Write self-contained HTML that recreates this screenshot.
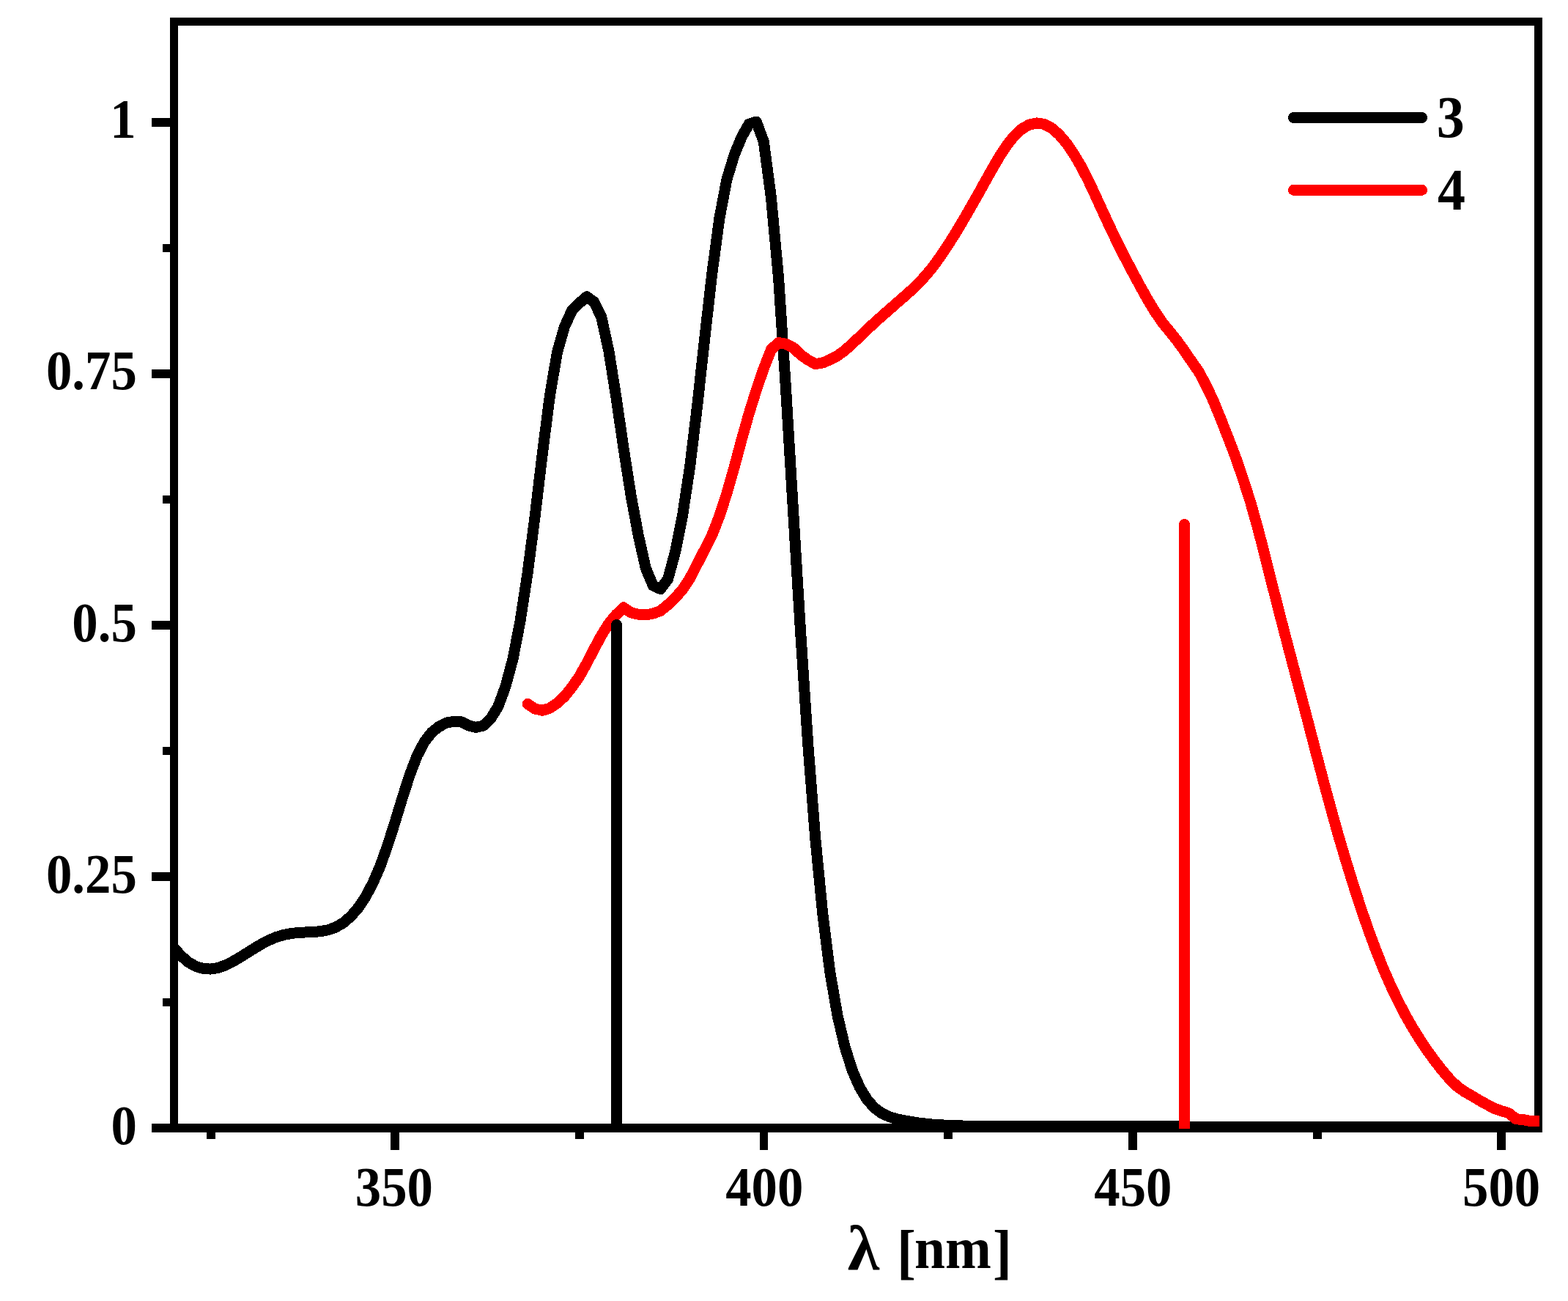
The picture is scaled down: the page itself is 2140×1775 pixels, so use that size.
<!DOCTYPE html>
<html lang="en"><head><meta charset="utf-8"><title>Spectra of 3 and 4</title>
<style>html,body{margin:0;padding:0;background:#fff}body{width:2140px;height:1775px;overflow:hidden}svg{display:block}text{font-family:"Liberation Serif","DejaVu Serif",serif;font-weight:bold;fill:#000}</style>
</head><body>
<svg width="2140" height="1775" viewBox="0 0 2140 1775">
<rect width="2140" height="1775" fill="#fff"/>
<g fill="#000" shape-rendering="crispEdges">
<rect x="232" y="24" width="11" height="1521"/>
<rect x="2094" y="24" width="11" height="1521"/>
<rect x="232" y="24" width="1873" height="11"/>
<rect x="207" y="1533" width="1898" height="12"/>
<rect x="207" y="161" width="25" height="12"/>
<rect x="207" y="504" width="25" height="12"/>
<rect x="207" y="847" width="25" height="12"/>
<rect x="207" y="1190" width="25" height="12"/>
<rect x="222" y="333" width="10" height="11"/>
<rect x="222" y="676" width="10" height="11"/>
<rect x="222" y="1019" width="10" height="11"/>
<rect x="222" y="1362" width="10" height="11"/>
<rect x="533" y="1545" width="12" height="24"/>
<rect x="1037" y="1545" width="11" height="24"/>
<rect x="1540" y="1545" width="12" height="24"/>
<rect x="2043" y="1545" width="12" height="24"/>
<rect x="282" y="1545" width="12" height="9"/>
<rect x="785" y="1545" width="12" height="9"/>
<rect x="1288" y="1545" width="12" height="9"/>
<rect x="1792" y="1545" width="12" height="9"/>
</g>
<g fill="none" stroke-width="15" stroke-linejoin="round" shape-rendering="crispEdges">
<path stroke="#000" stroke-linecap="butt" d="M237.0,1292.8L247.1,1304.1L257.1,1312.7L267.2,1318.5L277.3,1321.5L287.3,1322.1L297.4,1320.5L307.5,1317.0L317.5,1312.0L327.6,1306.1L337.7,1299.8L347.7,1293.5L357.8,1287.5L367.9,1282.3L377.9,1278.2L388.0,1275.3L398.1,1273.4L408.1,1272.4L418.2,1271.9L428.3,1271.5L438.3,1270.5L448.4,1268.6L458.5,1264.9L468.5,1259.0L478.6,1250.4L488.7,1238.8L498.7,1223.9L508.8,1205.0L518.9,1181.7L528.9,1153.7L539.0,1122.0L549.1,1088.8L559.1,1057.6L569.2,1031.3L579.3,1011.9L589.3,999.2L599.4,991.2L609.5,986.1L619.5,984.3L629.6,984.9L639.7,989.9L649.7,992.4L659.8,990.0L669.9,980.1L679.9,963.9L690.0,936.3L700.1,898.6L710.1,846.9L720.2,781.0L730.3,703.0L740.3,618.8L750.4,540.1L760.5,480.5L770.5,445.7L780.6,423.6L790.7,413.5L800.7,404.8L810.8,411.9L820.9,433.0L830.9,479.0L841.0,542.5L851.1,612.0L861.1,675.9L871.2,730.2L881.3,775.3L891.3,798.9L901.4,803.6L911.5,790.1L921.5,753.4L931.6,702.9L941.7,635.9L951.7,553.2L961.8,461.3L971.9,372.2L981.9,297.7L992.0,244.6L1002.1,211.5L1012.1,187.1L1022.2,169.3L1032.3,166.1L1042.3,193.3L1052.4,269.4L1062.5,378.5L1072.5,529.8L1082.6,697.8L1092.7,863.6L1102.7,1015.0L1112.8,1144.2L1122.9,1248.0L1132.9,1327.0L1143.0,1385.5L1153.1,1428.4L1163.1,1460.1L1173.2,1483.3L1183.3,1500.0L1193.3,1511.4L1203.4,1518.8L1213.5,1523.5L1223.5,1526.6L1233.6,1528.7L1243.7,1530.5L1253.7,1532.0L1263.8,1533.2L1273.9,1534.2L1283.9,1534.8L1294.0,1535.3L1304.1,1535.7L1314.1,1536.0L1324.2,1536.2L1334.3,1536.4L1344.3,1536.4L1354.4,1536.5L1364.5,1536.5L1374.5,1536.5L1384.6,1536.5L1394.7,1536.5L1404.7,1536.5L1414.8,1536.5L1424.9,1536.5L1434.9,1536.5L1445.0,1536.6L1455.1,1536.6L1465.1,1536.6L1475.2,1536.6L1485.3,1536.6L1495.3,1536.6L1505.4,1536.7L1515.5,1536.7L1525.5,1536.7L1535.6,1536.7L1545.7,1536.8L1555.7,1536.8L1565.8,1536.8L1575.9,1536.8L1585.9,1536.9L1596.0,1536.9L1606.1,1536.9L1616.1,1537.0L1626.2,1537.0L1636.3,1537.0L1646.3,1537.1L1656.4,1537.1L1666.5,1537.1L1676.5,1537.1L1686.6,1537.2L1696.7,1537.2L1706.7,1537.2L1716.8,1537.2L1726.9,1537.3L1736.9,1537.3L1747.0,1537.3L1757.1,1537.3L1767.1,1537.4L1777.2,1537.4L1787.3,1537.4L1797.3,1537.4L1807.4,1537.4L1817.5,1537.5L1827.5,1537.5L1837.6,1537.5L1847.7,1537.5L1857.7,1537.5L1867.8,1537.6L1877.9,1537.6L1887.9,1537.6L1898.0,1537.6L1908.1,1537.6L1918.1,1537.6L1928.2,1537.6L1938.3,1537.6L1948.3,1537.7L1958.4,1537.7L1968.5,1537.7L1978.5,1537.7L1988.6,1537.7L1998.7,1537.7L2008.7,1537.7L2018.8,1537.7L2028.9,1537.7L2038.9,1537.8L2049.0,1537.8L2059.1,1537.8L2069.1,1537.8L2079.2,1537.8L2089.3,1537.8L2099.3,1537.8"/>
<path stroke="#f00" stroke-linecap="butt" d="M720.2,960.4L730.3,967.1L740.3,969.3L750.4,966.2L760.5,959.2L770.5,950.2L780.6,937.6L790.7,922.9L800.7,905.1L810.8,885.5L820.9,866.7L830.9,850.8L841.0,838.6L851.1,828.9L861.1,835.8L871.2,838.2L881.3,838.9L891.3,837.1L901.4,833.4L911.5,825.1L921.5,815.7L931.6,804.0L941.7,788.8L951.7,769.3L961.8,749.8L971.9,729.6L981.9,704.1L992.0,673.0L1002.1,637.4L1012.1,600.2L1022.2,564.3L1032.3,531.9L1042.3,502.9L1052.4,477.0L1062.5,467.4L1072.5,469.3L1082.6,474.2L1092.7,484.0L1102.7,491.1L1112.8,496.5L1122.9,495.0L1132.9,490.7L1143.0,485.4L1153.1,478.0L1163.1,469.1L1173.2,459.5L1183.3,449.8L1193.3,440.5L1203.4,431.4L1213.5,422.6L1223.5,413.8L1233.6,405.0L1243.7,396.0L1253.7,386.3L1263.8,375.5L1273.9,363.1L1283.9,349.3L1294.0,334.1L1304.1,318.1L1314.1,301.3L1324.2,283.9L1334.3,266.2L1344.3,248.1L1354.4,230.1L1364.5,212.9L1374.5,197.6L1384.6,185.1L1394.7,175.9L1404.7,170.1L1414.8,167.9L1424.9,169.4L1434.9,174.5L1445.0,183.2L1455.1,194.9L1465.1,209.4L1475.2,226.5L1485.3,246.1L1495.3,267.4L1505.4,289.5L1515.5,311.2L1525.5,332.0L1535.6,351.9L1545.7,371.1L1555.7,389.7L1565.8,407.8L1575.9,424.6L1585.9,439.4L1596.0,451.8L1606.1,464.3L1616.1,478.2L1626.2,493.0L1636.3,507.4L1646.3,526.3L1656.4,547.7L1666.5,572.6L1676.5,597.9L1686.6,624.4L1696.7,654.0L1706.7,685.3L1716.8,721.1L1726.9,760.2L1736.9,800.2L1747.0,839.8L1757.1,878.5L1767.1,916.6L1777.2,954.6L1787.3,993.0L1797.3,1031.7L1807.4,1070.0L1817.5,1107.3L1827.5,1142.9L1837.6,1176.8L1847.7,1209.3L1857.7,1240.1L1867.8,1269.3L1877.9,1296.6L1887.9,1321.7L1898.0,1344.7L1908.1,1365.7L1918.1,1385.0L1928.2,1402.7L1938.3,1418.9L1948.3,1433.8L1958.4,1447.7L1968.5,1460.6L1978.5,1472.3L1988.6,1482.1L1998.7,1489.3L2008.7,1495.0L2018.8,1501.1L2028.9,1506.7L2038.9,1512.1L2049.0,1515.6L2059.1,1518.6L2069.1,1526.7L2079.2,1527.7L2089.3,1529.7L2099.3,1529.9L2101.0,1529.9"/>
<circle cx="720.2" cy="960.4" r="7.5" fill="#f00" stroke="none"/>
<line stroke="#000" stroke-linecap="butt" x1="841.5" y1="852.5" x2="841.5" y2="1540"/>
<circle cx="841.5" cy="852.5" r="7.5" fill="#000" stroke="none"/>
<line stroke="#f00" stroke-linecap="butt" x1="1616.5" y1="715.5" x2="1616.5" y2="1540"/>
<circle cx="1616.5" cy="715.5" r="7.5" fill="#f00" stroke="none"/>
<line stroke="#000" stroke-linecap="round" x1="1765.5" y1="160.5" x2="1940.5" y2="160.5"/>
<line stroke="#f00" stroke-linecap="round" x1="1765.5" y1="259.3" x2="1940.5" y2="259.3"/>
</g>
<text transform="translate(185.6 188) scale(0.94 1)" font-size="75.3" text-anchor="end">1</text>
<text transform="translate(186.8 531.2) scale(0.94 1)" font-size="75.3" text-anchor="end">0.75</text>
<text transform="translate(186.8 875) scale(0.94 1)" font-size="75.3" text-anchor="end">0.5</text>
<text transform="translate(186.8 1217.9) scale(0.94 1)" font-size="75.3" text-anchor="end">0.25</text>
<text transform="translate(186.8 1561) scale(0.94 1)" font-size="75.3" text-anchor="end">0</text>
<text transform="translate(537.9 1645.1) scale(0.94 1)" font-size="75.3" text-anchor="middle">350</text>
<text transform="translate(1043.3 1645.1) scale(0.94 1)" font-size="75.3" text-anchor="middle">400</text>
<text transform="translate(1546.4 1645.1) scale(0.94 1)" font-size="75.3" text-anchor="middle">450</text>
<text transform="translate(2049.1 1645.1) scale(0.94 1)" font-size="75.3" text-anchor="middle">500</text>
<text transform="translate(1979.85 187.1) scale(0.95 1)" font-size="80" text-anchor="middle">3</text>
<text transform="translate(1981.09 285.7) scale(0.95 1)" font-size="80" text-anchor="middle">4</text>
<text transform="scale(0.95 1)" font-size="79.5"><tspan x="1217.7" y="1732" font-size="86.5" textLength="45.7" lengthAdjust="spacingAndGlyphs">λ</tspan><tspan x="1268.4" y="1731"> </tspan><tspan x="1288.4" y="1734.7" font-size="82">[</tspan><tspan x="1313.6" y="1730">nm</tspan><tspan x="1426.4" y="1734.7" font-size="82">]</tspan></text>
</svg></body></html>
